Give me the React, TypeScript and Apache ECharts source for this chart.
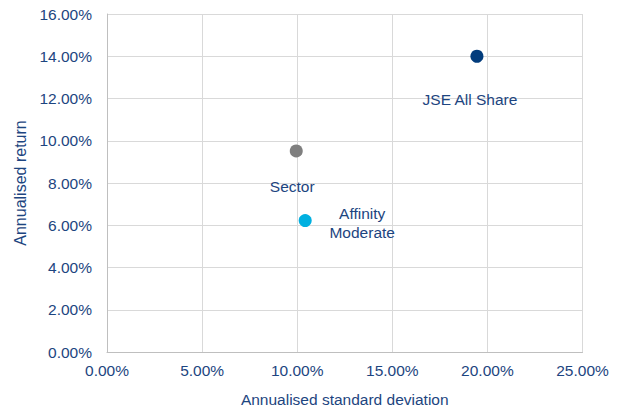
import React, { useEffect, useRef } from "react";
import * as echarts from "echarts";

const names = ["JSE All Share", "Sector", "Affinity\nModerate"];
const stdDev = [19.45, 9.95, 10.42];
const returns = [14.0, 9.52, 6.22];
const colors = ["#023C7C", "#7F7F7F", "#00B0E0"];
const labelOffsets: [number, number][] = [[-7, 43], [-4, 36], [57, 2.5]];

const xTicks = [0, 5, 10, 15, 20, 25];
const yTicks = [0, 2, 4, 6, 8, 10, 12, 14, 16];

const textColor = "#1D4580";
const font = "Liberation Sans, Arial, sans-serif";

export default function App() {
  const ref = useRef<HTMLDivElement>(null);
  useEffect(() => {
    document.body.style.margin = "0";
    if (!ref.current) return;
    const chart = echarts.init(ref.current, undefined, { renderer: "svg" });
    chart.setOption({
      animation: false,
      grid: { left: 107, right: 41.5, top: 14, bottom: 54.5 },
      xAxis: {
        type: "value",
        min: xTicks[0],
        max: xTicks[xTicks.length - 1],
        interval: 5,
        name: "Annualised standard deviation",
        nameLocation: "middle",
        nameGap: 39,
        nameTextStyle: { color: textColor, fontSize: 15.5, fontFamily: font },
        axisLine: { show: true, lineStyle: { color: "#BFBFBF" } },
        axisTick: { show: false },
        axisLabel: {
          color: textColor,
          fontSize: 15.5,
          fontFamily: font,
          margin: 10,
          formatter: (v: number) => v.toFixed(2) + "%",
        },
        splitLine: { show: true, lineStyle: { color: "#D9D9D9" } },
      },
      yAxis: {
        type: "value",
        min: yTicks[0],
        max: yTicks[yTicks.length - 1],
        interval: 2,
        name: "Annualised return",
        nameLocation: "middle",
        nameGap: 75,
        nameRotate: 90,
        nameTextStyle: { color: textColor, fontSize: 16, fontFamily: font },
        axisLine: { show: true, lineStyle: { color: "#BFBFBF" } },
        axisTick: { show: false },
        axisLabel: {
          color: textColor,
          fontSize: 15.5,
          fontFamily: font,
          margin: 15,
          formatter: (v: number) => v.toFixed(2) + "%",
        },
        splitLine: { show: true, lineStyle: { color: "#D9D9D9" } },
      },
      series: [
        {
          type: "scatter",
          symbolSize: 13,
          data: names.map((n, i) => ({
            name: n,
            value: [stdDev[i], returns[i]],
            itemStyle: { color: colors[i], opacity: 1 },
            label: {
              show: true,
              position: "inside",
              offset: labelOffsets[i],
              formatter: n,
              color: textColor,
              fontSize: 15.5,
              fontFamily: font,
              lineHeight: 19,
              textBorderWidth: 0,
            },
          })),
        },
      ],
    });
    return () => chart.dispose();
  }, []);
  return <div ref={ref} style={{ width: 624, height: 412 }} />;
}
